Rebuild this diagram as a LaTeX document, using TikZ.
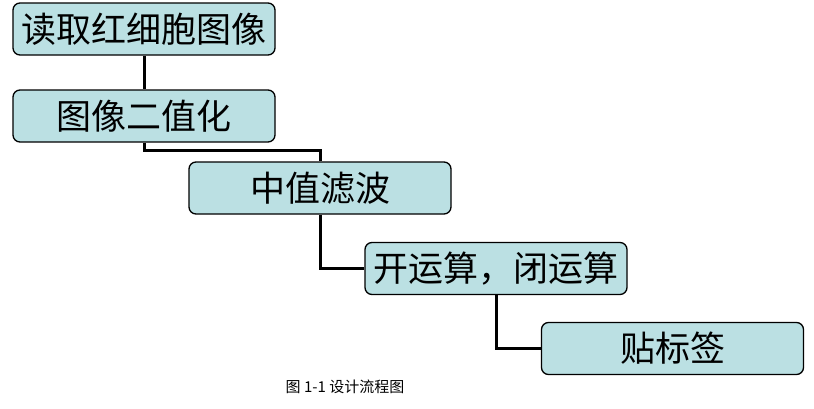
\documentclass[tikz,border=0pt]{standalone}
\usepackage{fontspec}
\newfontfamily\cjk{Noto Sans CJK SC}
\definecolor{boxfill}{HTML}{BBE0E3}

\begin{document}
\begin{tikzpicture}[x=1pt, y=-1pt,
      stepbox/.style={draw, line width=1.3pt, rounded corners=7pt, fill=boxfill,
        minimum width=262pt, minimum height=52pt, inner sep=0pt,
        font=\cjk\fontsize{35}{40}\selectfont},
      link/.style={line width=3pt}
      ]
      \useasboundingbox (0,0) rectangle (814,408);
      \node[stepbox] (read) at (144,29) {读取红细胞图像};
      \node[stepbox] (binar) at (144,116) {图像二值化};
      \node[stepbox] (median) at (320,188) {中值滤波};
      \node[stepbox] (morph) at (496,268.5) {开运算，闭运算};
      \node[stepbox] (label) at (672.5,348.5) {贴标签};
      \node[font=\cjk\fontsize{15}{17}\selectfont] (cap) at (345,387) {图 1-1 设计流程图};
      \draw[link] (read.south) -- (binar.north);
      \draw[link] (binar.south) -- ++(0,8) -| (median.north);
      \draw[link] (median.south) |- (morph.west);
      \draw[link] (morph.south) |- (label.west);
    \end{tikzpicture}
\end{document}
